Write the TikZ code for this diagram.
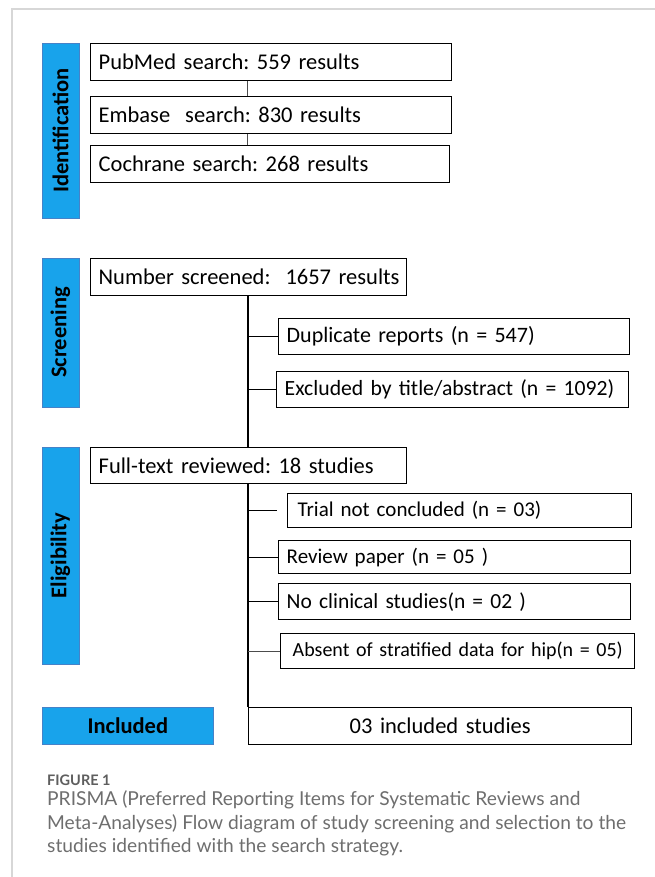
\documentclass[tikz,border=0pt]{standalone}
\usepackage{fontspec}
\setmainfont{Carlito}
\newfontfamily\capfont{Lato}
\usetikzlibrary{calc}
\definecolor{barblue}{RGB}{24,163,235}
\definecolor{baredge}{RGB}{70,130,200}
\definecolor{framegray}{RGB}{215,215,215}
\definecolor{capgray}{RGB}{110,110,110}
\begin{document}
\frenchspacing
\begin{tikzpicture}[x=1pt,y=-1pt,
  box/.style={draw=black, line width=1.4pt, inner xsep=8pt, inner ysep=0pt,
    align=left, anchor=north west, font=\fontsize{22.5}{26}\selectfont},
  cbox/.style={box, align=center},
  bar/.style={fill=barblue, draw=baredge, line width=0.6pt, inner sep=0pt,
    font=\bfseries\fontsize{22.5}{26}\selectfont},
  conn/.style={draw=black, line width=1.3pt},
  thinconn/.style={draw=black!70, line width=0.8pt},
  captext/.style={anchor=base west, inner sep=0pt, text=capgray, font=\capfont\fontsize{19.2}{23}\selectfont}]
\useasboundingbox (0,0) rectangle (655,877);
% page frame
\draw[framegray, line width=1.5pt] (655,9) -- (12,9) -- (12,877);

% phase bars
\node[bar, rotate=90, minimum width=175pt, minimum height=37pt] (idbar) at (60.5,130.5) {Identification};
\node[bar, rotate=90, minimum width=149pt, minimum height=37pt] (scrbar) at (60.5,332.5) {Screening};
\node[bar, rotate=90, minimum width=217pt, minimum height=37pt] (elbar) at (60.5,555.5) {Eligibility};
\node[bar, minimum width=171pt, minimum height=37pt, anchor=north west] (inclbar) at (42,707) {Included};

% boxes
\node[box, text width=345pt, minimum height=37pt] (pub) at (90,43) {\mbox{PubMed search: 559 results}};
\node[box, text width=345pt, minimum height=37pt] (emb) at (90,96) {\mbox{Embase\ \ search: 830 results}};
\node[box, text width=343pt, minimum height=37pt] (coch) at (90,145) {\mbox{Cochrane search: 268 results}};

\node[box, text width=300pt, minimum height=37pt] (num) at (90,258) {\mbox{Number screened:\ \ 1657 results}};
\node[box, text width=335pt, minimum height=36pt, font=\fontsize{22}{26}\selectfont] (dup) at (278,318) {\mbox{Duplicate reports (n = 547)}};
\node[box, text width=336pt, minimum height=36pt, font=\fontsize{21.7}{26}\selectfont] (excl) at (276,371) {\mbox{Excluded by title/abstract (n = 1092)}};

\node[box, text width=300pt, minimum height=36pt] (full) at (90,447) {\mbox{Full-text reviewed: 18 studies}};
\node[box, text width=324pt, minimum height=34pt, font=\fontsize{21}{25}\selectfont, inner xsep=10pt] (trial) at (287,493) {\mbox{Trial not concluded (n = 03)}};
\node[box, text width=336pt, minimum height=33pt, font=\fontsize{21}{25}\selectfont] (review) at (278,540) {\mbox{Review paper (n = 05 )}};
\node[box, text width=336pt, minimum height=36pt, font=\fontsize{21.5}{25}\selectfont] (noclin) at (278,583) {\mbox{No clinical studies(n = 02 )}};
\node[box, text width=330pt, minimum height=35pt, font=\fontsize{20}{24}\selectfont, inner xsep=12pt] (absent) at (280,633) {\mbox{Absent of stratified data for hip(n = 05)}};
\node[cbox, text width=367pt, minimum height=37pt] (incl) at (248,707) {03 included studies};

% connectors
\coordinate (sp) at (248,0);
\coordinate (sq) at (247,0);
\draw[thinconn] (pub.south -| sq) -- (emb.north -| sq);
\draw[thinconn] (emb.south -| sq) -- (coch.north -| sq);
\draw[conn] (num.south -| sp) -- (full.north -| sp);
\draw[conn] (full.south -| sp) -- (incl.north west);
\draw[conn] (dup.west -| sp) -- (dup.west);
\draw[conn] (excl.west -| sp) -- (excl.west);
\draw[conn] (trial.west -| sp) -- ($(trial.west)+(-10,0)$);
\draw[conn] (review.west -| sp) -- (review.west);
\draw[conn] (noclin.west -| sp) -- (noclin.west);
\draw[thinconn] (absent.west -| sp) -- (absent.west);

% caption
\node[anchor=base west, inner sep=0pt, text=capgray!85!black, font=\capfont\bfseries\fontsize{14.5}{16}\selectfont] (figlab) at (47,785) {FIGURE 1};
\node[captext] (cap1) at (47,805) {PRISMA (Preferred Reporting Items for Systematic Reviews and};
\node[captext] (cap2) at (47,829) {Meta-Analyses) Flow diagram of study screening and selection to the};
\node[captext] (cap3) at (47,852) {studies identified with the search strategy.};
\end{tikzpicture}
\end{document}
